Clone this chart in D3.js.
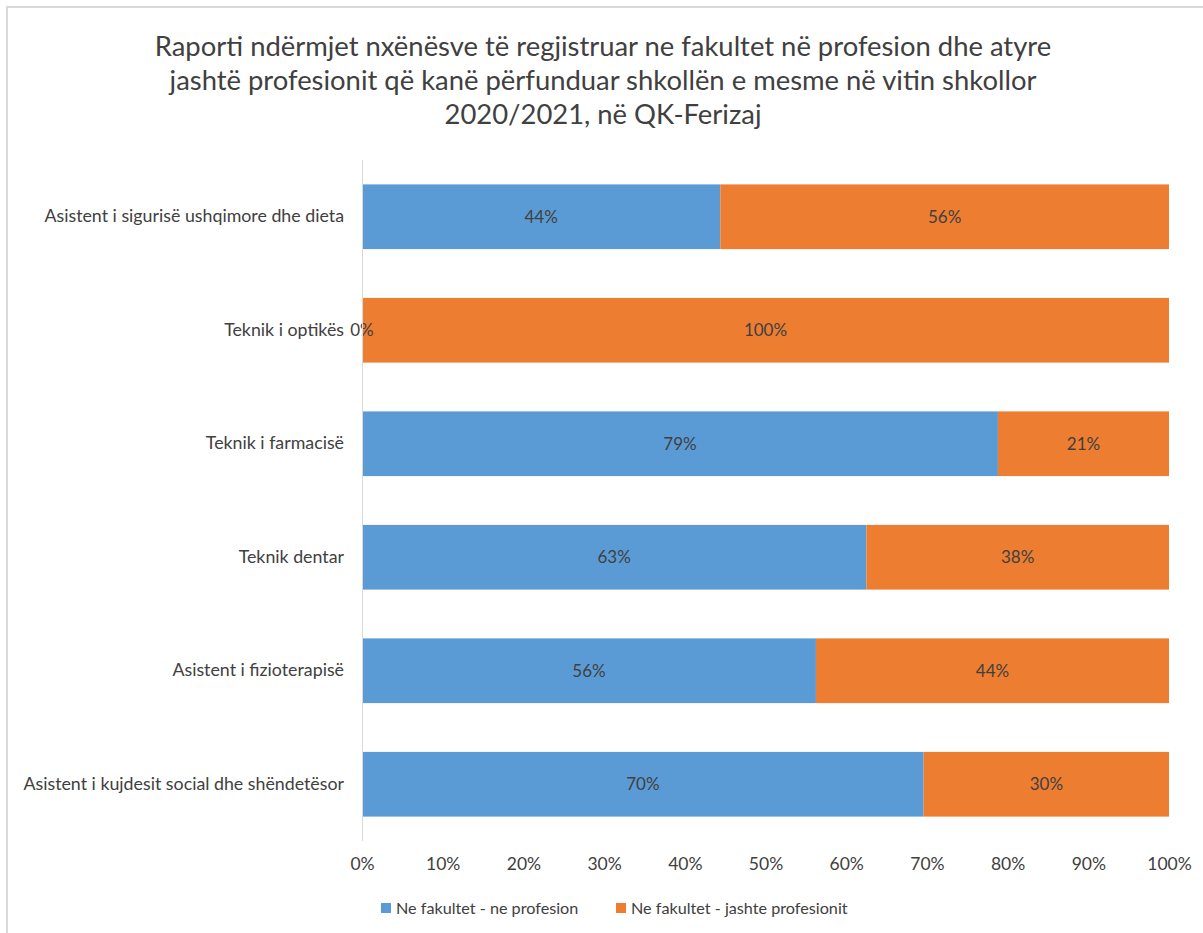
<!DOCTYPE html>
<html><head><meta charset="utf-8">
<script src="https://cdn.jsdelivr.net/npm/d3@7"></script>
<style>body{margin:0;background:#fff}svg{display:block}</style>
</head><body>
<svg id="c" width="1203" height="933"></svg>
<script>
const titleLines = [
  "Raporti ndërmjet nxënësve të regjistruar ne fakultet në profesion dhe atyre",
  "jashtë profesionit që kanë përfunduar shkollën e mesme në vitin shkollor",
  "2020/2021, në QK-Ferizaj"
];
const categories = [
  "Asistent i sigurisë ushqimore dhe dieta",
  "Teknik i optikës",
  "Teknik i farmacisë",
  "Teknik dentar",
  "Asistent i fizioterapisë",
  "Asistent i kujdesit social dhe shëndetësor"
];
const seriesNames = ["Ne fakultet - ne profesion", "Ne fakultet - jashte profesionit"];
const inProfession = [44.4, 0, 78.8, 62.5, 56.25, 69.6];
const outsideProfession = [55.6, 100, 21.2, 37.5, 43.75, 30.4];
const xTicks = [0, 10, 20, 30, 40, 50, 60, 70, 80, 90, 100];
const colors = ["#5B9BD5", "#ED7D31"];

const svg = d3.select("#c");
const font = "Lato, 'Open Sans', sans-serif";
const textColor = "#404040";

// chart border
svg.append("line").attr("x1", 6).attr("x2", 1203).attr("y1", 7).attr("y2", 7).attr("stroke", "#d9d9d9").attr("stroke-width", 2);
svg.append("line").attr("x1", 7).attr("x2", 7).attr("y1", 6).attr("y2", 933).attr("stroke", "#d9d9d9").attr("stroke-width", 2);

// title
const tg = svg.append("g");
titleLines.forEach((t, i) => {
  tg.append("text").attr("x", 603).attr("y", 56 + i * 34).attr("text-anchor", "middle")
    .attr("font-family", font).attr("font-size", 24).attr("fill", textColor).text(t);
});
const w0 = tg.select("text").node().getComputedTextLength();
tg.selectAll("text").attr("font-size", 24 * 897 / w0);

const x = d3.scaleLinear().domain([0, 100]).range([362, 1169]);
const y = d3.scaleBand().domain(categories).range([160, 841]).paddingInner(0.43).paddingOuter(0.215);

const stackData = categories.map((c, i) => ({cat: c, a: inProfession[i], b: outsideProfession[i]}));
const stack = d3.stack().keys(["a", "b"])(stackData);

stack.forEach((layer, li) => {
  svg.append("g").selectAll("rect").data(layer).join("rect")
    .attr("x", d => x(d[0])).attr("width", d => x(d[1]) - x(d[0]))
    .attr("y", d => y(d.data.cat)).attr("height", y.bandwidth())
    .attr("fill", colors[li]);
});
stack.forEach((layer) => {
  svg.append("g").selectAll("text").data(layer).join("text")
    .attr("x", d => (x(d[0]) + x(d[1])) / 2)
    .attr("y", d => y(d.data.cat) + y.bandwidth() / 2)
    .attr("dy", "0.35em").attr("text-anchor", "middle")
    .attr("font-family", font).attr("font-size", 17).attr("fill", textColor)
    .text(d => Math.round(d[1] - d[0]) + "%");
});

// vertical axis line
svg.append("line").attr("x1", 362.5).attr("x2", 362.5).attr("y1", 160).attr("y2", 841)
  .attr("stroke", "#d9d9d9").attr("stroke-width", 1);

// category labels
const yAxis = svg.append("g").attr("transform", "translate(362,0)")
  .call(d3.axisLeft(y).tickSize(0).tickPadding(18));
yAxis.select(".domain").remove();
yAxis.selectAll("text").attr("font-family", font).attr("font-size", 17.8).attr("fill", textColor);

// x axis ticks
const xAxis = svg.append("g").attr("transform", "translate(0,855)")
  .call(d3.axisBottom(x).tickValues(xTicks).tickFormat(d => d + "%").tickSize(0).tickPadding(3));
xAxis.select(".domain").remove();
xAxis.selectAll("text").attr("font-family", font).attr("font-size", 17.5).attr("fill", textColor);

// legend
const legendX = [381, 616];
seriesNames.forEach((s, i) => {
  const g = svg.append("g").attr("transform", `translate(${legendX[i]},908)`);
  g.append("rect").attr("x", 0).attr("y", -5).attr("width", 10).attr("height", 10).attr("fill", colors[i]);
  g.append("text").attr("x", 15).attr("y", 0).attr("dy", "0.35em")
    .attr("font-family", font).attr("font-size", 16.2).attr("fill", textColor).text(s);
});
</script>
</body></html>
